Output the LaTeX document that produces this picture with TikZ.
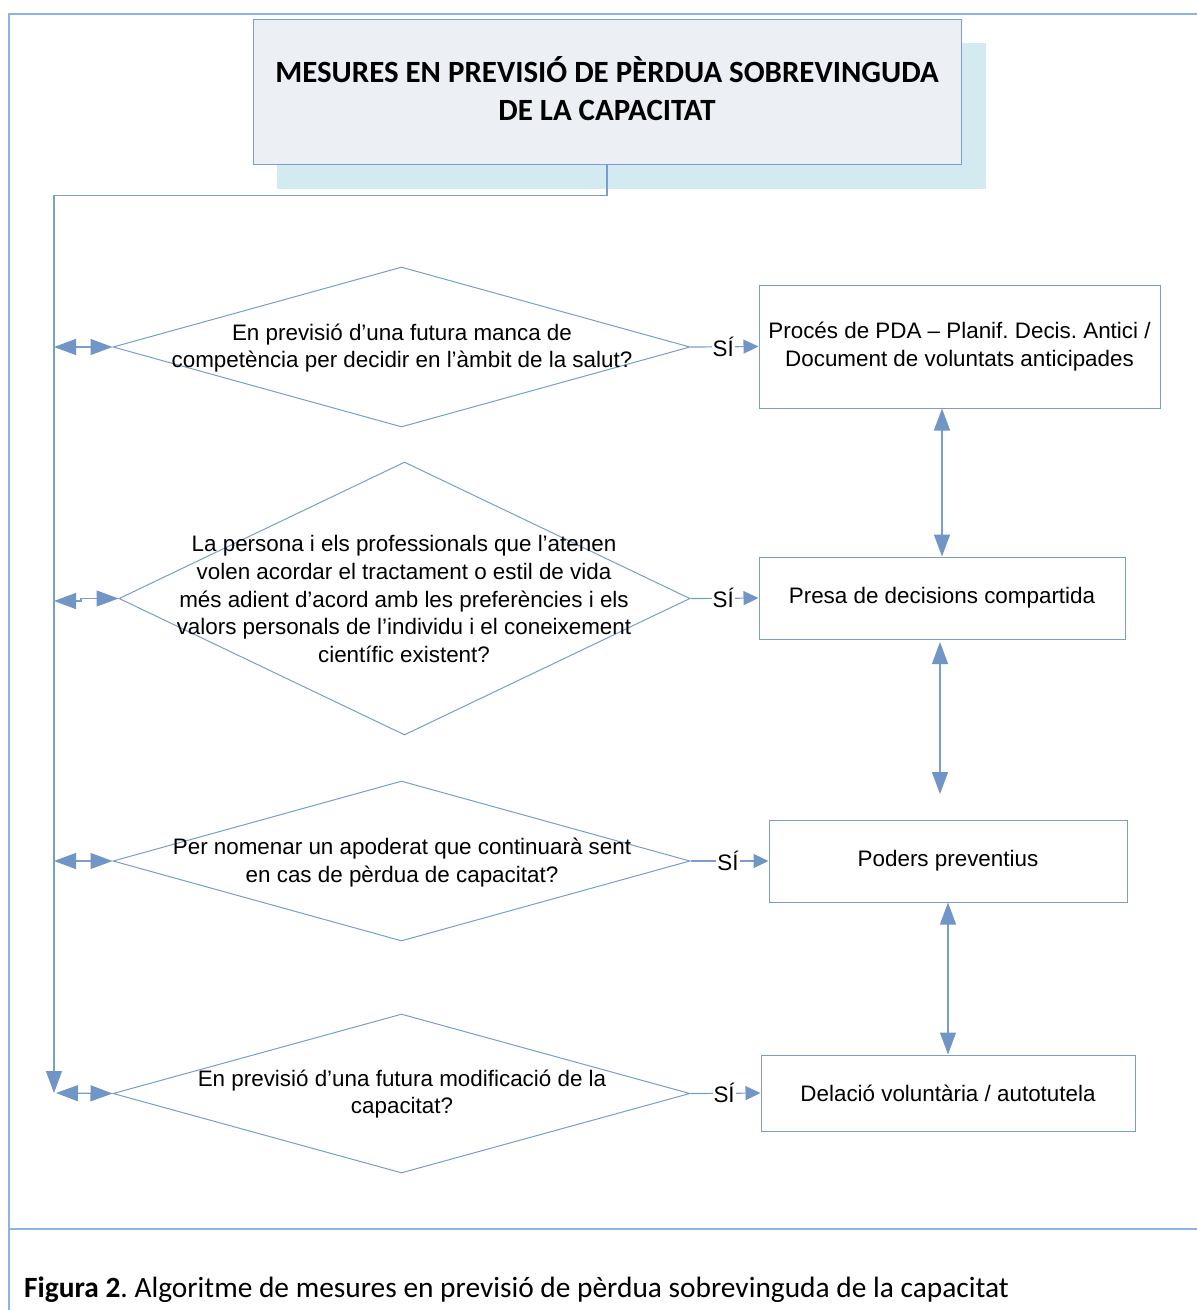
\documentclass[tikz,border=0pt]{standalone}
\usepackage{fontspec}
\setmainfont{Liberation Sans}
\newfontfamily\calibri{Carlito}
\usetikzlibrary{arrows.meta,shapes.geometric}
\frenchspacing
\definecolor{ln}{RGB}{122,156,206}
\definecolor{ah}{RGB}{112,149,198}
\definecolor{framec}{RGB}{141,179,226}
\definecolor{tfill}{RGB}{236,240,245}
\definecolor{shadowc}{RGB}{210,234,240}
\tikzset{
  dia/.style={diamond, draw=ln, line width=1pt, inner sep=0pt},
  boxn/.style={rectangle, draw=ln, line width=1pt, inner sep=0pt, align=center, font=\fontsize{22.4}{28}\selectfont},
  txt/.style={align=center, inner sep=0pt, font=\fontsize{22.4}{27.8}\selectfont},
  conn/.style={draw=ln, line width=1.2pt},
  bigtip/.tip={Triangle[length=22pt,width=16pt,fill=ah,color=ah]},
  smalltip/.tip={Triangle[length=15pt,width=14pt,fill=ah,color=ah]},
  dbl/.style={conn, bigtip-bigtip},
  yes/.style={conn, -smalltip},
  si/.style={fill=white, inner sep=1pt, font=\fontsize{22.4}{26}\selectfont},
}
\begin{document}
\begin{tikzpicture}[x=1pt,y=-1pt]
\useasboundingbox (0,0) rectangle (1197,1310);
% frame
\draw[framec, line width=2pt] (9,1310) -- (9,14) -- (1197,14);
\draw[framec, line width=2pt] (9,1229) -- (1197,1229);
% title
\fill[shadowc] (277,43) rectangle (986,189);
\node[draw=ln, line width=1pt, fill=tfill, minimum width=708pt, minimum height=145pt, inner sep=0pt] (title) at (607,91.5) {};
\node[font=\calibri\bfseries\fontsize{30.9}{38}\selectfont, align=center, inner sep=0pt] (ttext) at (607,89)
  {MESURES EN PREVISIÓ DE PÈRDUA SOBREVINGUDA\\DE LA CAPACITAT};
% diamonds
\node[dia, minimum width=577pt, minimum height=160pt] (d1) at (401.5,347) {};
\node[dia, minimum width=571pt, minimum height=273pt] (d2) at (404.5,598.5) {};
\node[dia, minimum width=577pt, minimum height=160pt] (d3) at (401.5,861) {};
\node[dia, minimum width=577pt, minimum height=159pt] (d4) at (401.5,1093.5) {};
\node[txt] (t1) at (402,348) {En previsió d’una futura manca de\\competència per decidir en l’àmbit de la salut?};
\node[txt] (t2) at (404,599) {La persona i els professionals que l’atenen\\volen acordar el tractament o estil de vida\\més adient d’acord amb les preferències i els\\valors personals de l’individu i el coneixement\\científic existent?};
\node[txt] (t3) at (402,862.5) {Per nomenar un apoderat que continuarà sent\\en cas de pèrdua de capacitat?};
\node[txt] (t4) at (402,1094) {En previsió d’una futura modificació de la\\capacitat?};
% boxes
\node[boxn, minimum width=401pt, minimum height=123pt] (b1) at (959.5,346.5) {Procés de PDA – Planif. Decis. Antici /\\Document de voluntats anticipades};
\node[boxn, minimum width=366pt, minimum height=82pt] (b2) at (942,598) {Presa de decisions compartida};
\node[boxn, minimum width=358pt, minimum height=82pt] (b3) at (948,861) {Poders preventius};
\node[boxn, minimum width=374pt, minimum height=76pt] (b4) at (948,1093) {Delació voluntària / autotutela};
% yes arrows
\draw[yes] (d1.east) -- node[si, pos=0.48] (s1) {SÍ} (b1.west);
\draw[yes] (d2.east) -- node[si, pos=0.48] (s2) {SÍ} (b2.west);
\draw[yes] (d3.east) -- node[si, pos=0.48] (s3) {SÍ} (b3.west);
\draw[yes] (d4.east) -- node[si, pos=0.48] (s4) {SÍ} (b4.west);
% vertical double arrows
\draw[dbl] (b2.north |- b1.south) -- (b2.north);
\coordinate (m2a) at (940,642);
\coordinate (m2b) at (940,794);
\draw[dbl] (m2a) -- (m2b);
\draw[dbl] (b3.south) -- (b4.north);
% left bus
\coordinate (L1) at (54,347);
\coordinate (L2) at (54,601);
\coordinate (L3) at (54,861);
\coordinate (L4) at (56,1093);
\coordinate (busend) at (54,1093);
\draw[conn, -bigtip] (title.south) -- ++(0,31) -| (busend);
\draw[dbl] (L1) -- (d1.west);
\draw[dbl] (L2) -- ++(27,0) |- (d2.west);
\draw[dbl] (L3) -- (d3.west);
\draw[dbl] (L4) -- (d4.west);
% caption
\node[anchor=base west, inner sep=0pt, font=\calibri\fontsize{29.4}{32}\selectfont] (cap) at (24,1297)
  {\textbf{Figura 2}. Algoritme de mesures en previsió de pèrdua sobrevinguda de la capacitat};
\end{tikzpicture}
\end{document}
